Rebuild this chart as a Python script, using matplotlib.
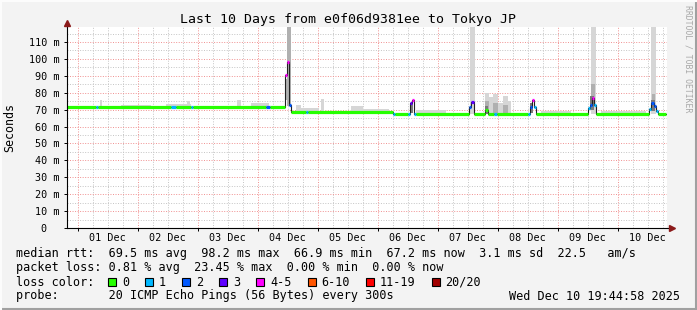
import matplotlib
matplotlib.use("Agg")
import matplotlib.pyplot as plt
import matplotlib.patches as mpatches
from matplotlib.lines import Line2D
from matplotlib.transforms import blended_transform_factory

# time axis: days since 01 Dec 00:00
t_start = -0.1771
t_end = 9.8229
data_end = 9.800
day_labels = ["01 Dec", "02 Dec", "03 Dec", "04 Dec", "05 Dec",
              "06 Dec", "07 Dec", "08 Dec", "09 Dec", "10 Dec"]

# median rtt as steps: start day, rtt (ms), loss colour index
step_day = [-0.177, 0.300, 0.333, 1.550, 1.633, 1.883, 1.917, 3.133, 3.200,
            3.450, 3.492, 3.525, 3.558, 3.800, 3.833,
            5.250, 5.283, 5.500, 5.533, 5.567, 5.600, 5.633,
            6.517, 6.550, 6.600,
            6.783, 6.833, 6.933, 6.983,
            7.500, 7.533, 7.567, 7.600, 7.633,
            8.500, 8.533, 8.567, 8.600, 8.633,
            9.517, 9.550, 9.600, 9.633, 9.667]
step_rtt = [71.5, 71.5, 71.5, 71.5, 71.5, 71.5, 71.5, 71.5, 71.5,
            90.5, 98.2, 72.8, 68.7, 68.7, 68.7,
            67.4, 67.4, 67.4, 74.0, 75.5, 67.4, 67.4,
            71.8, 74.5, 67.4,
            69.8, 67.4, 67.4, 67.4,
            67.4, 71.8, 75.7, 71.8, 67.4,
            71.0, 73.0, 77.0, 73.0, 67.4,
            70.5, 74.0, 72.0, 69.0, 67.4]
step_loss = [0, 1, 0, 1, 0, 1, 0, 2, 0,
             4, 4, 2, 0, 1, 0,
             1, 0, 1, 3, 4, 1, 0,
             2, 3, 0,
             0, 0, 1, 0,
             1, 2, 4, 1, 0,
             1, 2, 4, 1, 0,
             1, 2, 2, 1, 0]

# smoke (spread of the 20 pings): start day, end day, low ms, high ms
smoke_light = [(0.367, 0.400, 71.5, 75.7), (0.717, 1.217, 71.5, 72.8),
               (1.467, 1.883, 71.5, 73.5), (1.817, 1.867, 71.5, 75.2),
               (2.650, 2.717, 71.5, 75.5), (2.883, 3.183, 71.5, 74.0),
               (3.633, 3.717, 68.7, 73.0), (3.717, 4.017, 68.7, 71.0),
               (4.050, 4.100, 68.7, 76.5), (4.550, 4.750, 68.7, 72.0),
               (4.750, 5.183, 68.7, 70.5), (5.633, 6.133, 67.4, 70.0),
               (6.533, 6.617, 67.4, 125.0), (6.783, 6.850, 67.4, 80.0),
               (6.850, 6.917, 67.4, 77.5), (6.917, 7.000, 67.4, 79.0),
               (7.000, 7.083, 67.4, 74.0), (7.083, 7.167, 67.4, 78.0),
               (7.167, 7.217, 67.4, 75.0), (7.717, 8.217, 67.4, 69.5),
               (8.550, 8.633, 67.4, 125.0), (8.717, 9.467, 67.4, 69.5),
               (9.550, 9.633, 67.4, 125.0)]
smoke_mid = [(3.483, 3.550, 72.0, 125.0), (3.450, 3.483, 76.0, 88.0),
             (6.783, 6.850, 67.4, 75.0),
             (6.917, 7.000, 67.4, 74.0), (7.083, 7.167, 67.4, 73.0),
             (8.550, 8.617, 72.0, 85.0), (9.567, 9.617, 70.0, 79.0)]
smoke_dark = [(6.783, 6.833, 67.4, 72.0),
              (5.533, 5.583, 68.0, 74.0), (7.533, 7.583, 68.0, 74.0),
              (8.533, 8.600, 70.0, 78.0), (9.550, 9.617, 69.0, 76.0)]

loss_labels = ["0", "1", "2", "3", "4-5", "6-10", "11-19", "20/20"]
loss_colors = ["#26ff00", "#00b8ff", "#0059ff", "#5e00ff",
               "#ff00ff", "#ff5500", "#ff0000", "#a10000"]

rtt_avg, rtt_max, rtt_min, rtt_now, rtt_sd, rtt_ams = 69.5, 98.2, 66.9, 67.2, 3.1, 22.5
loss_avg, loss_max, loss_min, loss_now = 0.81, 23.45, 0.00, 0.00

title = "Last 10 Days from e0f06d9381ee to Tokyo JP"
probe = "20 ICMP Echo Pings (56 Bytes) every 300s"
stamp = "Wed Dec 10 19:44:58 2025"

MONO = "DejaVu Sans Mono"
W, H = 697, 310
fig = plt.figure(figsize=(W / 100, H / 100), dpi=100, facecolor="#f3f3f3")
ax = fig.add_axes([67 / W, (H - 228) / H, 600 / W, 201 / H])
ax.set_facecolor("white")
ax.set_xlim(t_start, t_end)
ax.set_ylim(0, 118.9)
for s in ax.spines.values():
    s.set_visible(False)

# grid
ax.set_xticks(range(10))
ax.set_xticks([q * 0.25 for q in range(40) if q % 4], minor=True)
ax.set_yticks(range(0, 111, 10))
ax.set_yticks(range(5, 116, 10), minor=True)
ax.set_axisbelow(True)
ax.grid(which="major", color="#f09090", ls=(0, (1, 1.6)), lw=0.7)
ax.grid(which="minor", color="#c4c4c4", ls=(0, (1, 1.6)), lw=0.7)
ax.set_xticklabels([])
ax.set_yticklabels(["0  "] + ["%d m" % v for v in range(10, 111, 10)],
                   family=MONO, fontsize=7.3)
ax.tick_params(which="major", length=2, width=0.7, pad=3.5)
ax.tick_params(which="minor", length=0)

tr = blended_transform_factory(ax.transData, ax.transAxes)
for i, lab in enumerate(day_labels):
    ax.text(i + 0.5, -0.052, lab, transform=tr, ha="center", va="center",
            family=MONO, fontsize=7.3)

# smoke
for tiers, col in [(smoke_light, "#d6d6d6"), (smoke_mid, "#b0b0b0"), (smoke_dark, "#7a7a7a")]:
    for t0, t1, lo, hi in tiers:
        ax.bar(t0, hi - lo, width=t1 - t0, bottom=lo, align="edge",
               color=col, lw=0, zorder=2)

# median line
xs = step_day + [data_end]
ax.step(xs, step_rtt + [step_rtt[-1]], where="post", color="#202020",
        lw=0.8, zorder=3)
for i in range(len(step_day)):
    ax.plot([xs[i], xs[i + 1]], [step_rtt[i], step_rtt[i]],
            color=loss_colors[step_loss[i]], lw=2.3, solid_capstyle="butt",
            zorder=4)

# axes with arrows
ax.plot([0, 0], [0, 1.02], transform=ax.transAxes, color="black", lw=0.8,
        clip_on=False, zorder=5)
ax.plot([0, 1.008], [0, 0], transform=ax.transAxes, color="black", lw=0.8,
        clip_on=False, zorder=5)
ax.plot(0, 1.02, marker="^", ms=4, color="#8b1a1a", transform=ax.transAxes,
        clip_on=False, zorder=6)
ax.plot(1.008, 0, marker=">", ms=4, color="#8b1a1a", transform=ax.transAxes,
        clip_on=False, zorder=6)

# texts
fig.text(0.5, 1 - 19 / H, title, ha="center", va="center", family=MONO, fontsize=9.5)
fig.text(10 / W, 1 - 127.5 / H, "Seconds", rotation=90, ha="center", va="center",
         family=MONO, fontsize=8.4)
fig.text(688 / W, 1 - 5 / H, "RRDTOOL / TOBI OETIKER", rotation=270, ha="center",
         va="top", family=MONO, fontsize=5.9, color="#a8a8a8")

lx = 16 / W
fig.text(lx, 1 - 254 / H,
         "median rtt:  %.1f ms avg  %.1f ms max  %.1f ms min  %.1f ms now  %.1f ms sd  %.1f   am/s"
         % (rtt_avg, rtt_max, rtt_min, rtt_now, rtt_sd, rtt_ams),
         va="center", family=MONO, fontsize=8.5)
fig.text(lx, 1 - 268 / H,
         "packet loss: %.2f %% avg  %.2f %% max  %.2f %% min  %.2f %% now"
         % (loss_avg, loss_max, loss_min, loss_now),
         va="center", family=MONO, fontsize=8.5)
fig.text(lx, 1 - 282 / H, "loss color:", va="center", family=MONO, fontsize=8.5)
bx = 108
cw = 7.1
for lab, col in zip(loss_labels, loss_colors):
    fig.add_artist(mpatches.Rectangle((bx / W, 1 - 286 / H), 8 / W, 8 / H,
                                      facecolor=col, edgecolor="black", lw=0.8,
                                      transform=fig.transFigure))
    fig.text((bx + 14) / W, 1 - 282 / H, lab, va="center", family=MONO, fontsize=8.5)
    bx = bx + 14 + len(lab) * cw + 16
fig.text(lx, 1 - 296 / H, "probe:       " + probe, va="center", family=MONO, fontsize=8.5)
fig.text(680 / W, 1 - 296 / H, stamp, ha="right", va="center", family=MONO, fontsize=8.5)

# frame edges
fig.add_artist(Line2D([0, 1], [1 / H, 1 / H], color="#a0a0a0", lw=1.5, transform=fig.transFigure))
fig.add_artist(Line2D([1 - 1 / W, 1 - 1 / W], [0, 1], color="#a0a0a0", lw=1.5, transform=fig.transFigure))
fig.add_artist(Line2D([0, 1], [1 - 1 / H, 1 - 1 / H], color="#fcfcfc", lw=1.5, transform=fig.transFigure))
fig.add_artist(Line2D([1 / W, 1 / W], [0, 1], color="#fcfcfc", lw=1.5, transform=fig.transFigure))

fig.savefig("out.png", dpi=100, facecolor=fig.get_facecolor())
